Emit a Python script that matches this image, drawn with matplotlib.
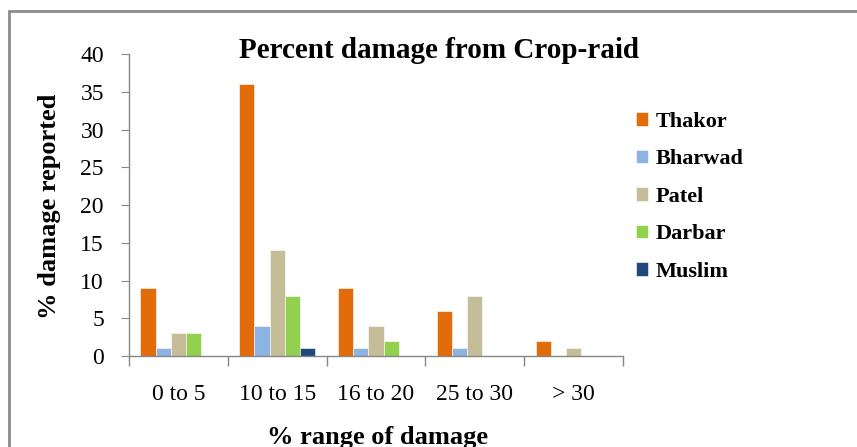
import numpy as np
import matplotlib.pyplot as plt
from matplotlib.patches import Rectangle

categorias = ['0 to 5', '10 to 15', '16 to 20', '25 to 30', '> 30']
grupos = ['Thakor', 'Bharwad', 'Patel', 'Darbar', 'Muslim']
thakor = [9, 36, 9, 6, 2]
bharwad = [1, 4, 1, 1, 0]
patel = [3, 14, 4, 8, 1]
darbar = [3, 8, 2, 0, 0]
muslim = [0, 1, 0, 0, 0]
colores = ['#E36C0A', '#8DB3E2', '#C4BD97', '#92D050', '#1F497D']

plt.rcParams['font.family'] = 'Liberation Serif'

fig = plt.figure(figsize=(8.57, 4.47), dpi=100)
ax = fig.add_axes([0.1505, 0.2036, 0.5765, 0.675])

# borde del area del grafico
fig.patches.append(Rectangle((0.0105, -0.1), 1.2, 1.075, transform=fig.transFigure,
                             fill=False, edgecolor='#8c8c8c', linewidth=2))

series = [thakor, bharwad, patel, darbar, muslim]
x = np.arange(len(categorias))
ancho = 1 / 6.5
for i, (nombre, valores) in enumerate(zip(grupos, series)):
    pos = x - 2.5 * ancho + ancho / 2 + i * ancho
    ax.bar(pos, valores, width=ancho, color=colores[i], label=nombre,
           edgecolor='white', linewidth=0.4)

ax.set_xlim(-0.5, len(categorias) - 0.5)
ax.set_ylim(0, 40)
ax.set_yticks(range(0, 41, 5))
ax.set_xticks(x)
ax.set_xticklabels(categorias, fontsize=17)
ax.set_xticks(np.arange(-0.5, len(categorias), 1), minor=True)
ax.tick_params(axis='x', which='major', length=0, pad=20)
ax.tick_params(axis='x', which='minor', length=7, color='#868686', width=1)
ax.tick_params(axis='y', length=6, color='#868686', labelsize=17, pad=12)

for s in ['top', 'right']:
    ax.spines[s].set_visible(False)
for s in ['left', 'bottom']:
    ax.spines[s].set_color('#868686')
    ax.spines[s].set_linewidth(1)

fig.text(0.512, 0.887, 'Percent damage from Crop-raid', fontsize=21,
         fontweight='bold', ha='center', va='center')
fig.text(0.058, 0.539, '% damage reported', fontsize=19, fontweight='bold',
         rotation=90, ha='center', va='center')
fig.text(0.44, 0.022, '% range of damage', fontsize=19, fontweight='bold',
         ha='center', va='center')

fig.legend(loc='upper left', bbox_to_anchor=(0.729, 0.775), frameon=False,
           prop={'size': 16, 'weight': 'bold'}, handlelength=0.55,
           handleheight=0.55, handletextpad=0.35, labelspacing=0.79,
           borderpad=0)

fig.savefig('out.png', dpi=100)
